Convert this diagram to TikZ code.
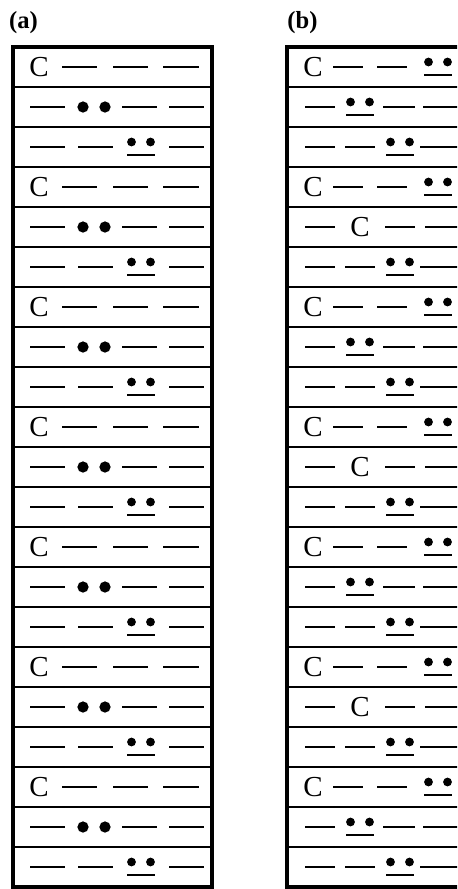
\documentclass[tikz,border=0pt]{standalone}
\usepackage{fontspec}
\setmainfont{Liberation Serif}
% lone pair: two dots over a short bar, centred at (#1,#2)
\newcommand{\lonepair}[2]{%
  \fill ({#1-9.5},{#2-5}) circle (2.5pt);
  \fill ({#1+9.5},{#2-5}) circle (2.5pt);
  \draw[bond] ({#1-14},{#2+8}) -- ({#1+14},{#2+8});}
\begin{document}
\begin{tikzpicture}[x=0.02cm, y=-0.02cm,
  frame/.style={line width=1.75pt},
  sep/.style={line width=1.4pt},
  bond/.style={line width=1.65pt},
  atom/.style={font=\fontsize{16.5}{16.5}\selectfont, inner sep=0pt},
  tag/.style={font=\bfseries\fontsize{14}{14}\selectfont, inner sep=0pt}]
\useasboundingbox (0,0) rectangle (457,889);
\clip (0,0) rectangle (457,889);
% column (a)
\node[tag] (taga) at (23.5,23) {(a)};
\draw[frame] (13,47) rectangle (212,887);
\foreach \r in {1,...,20} \draw[sep] (13,{47+40*\r}) -- (212,{47+40*\r});
\foreach \r in {0,...,20} {
  \pgfmathsetmacro\yc{67+40*\r}
  \pgfmathtruncatemacro\k{mod(\r,3)}
  \ifcase\k
    \node[atom] (ca\r) at (39,\yc) {C};
    \foreach \a/\b in {62/97,113/148,163/199} \draw[bond] (\a,\yc) -- (\b,\yc);
  \or
    \foreach \a/\b in {30/65,122/157,169/204} \draw[bond] (\a,\yc) -- (\b,\yc);
    \foreach \a in {83,105} \fill (\a,\yc) circle (3.2pt);
  \or
    \foreach \a/\b in {30/65,78/113,169/204} \draw[bond] (\a,\yc) -- (\b,\yc);
    \lonepair{141}{\yc}
  \fi
}
% column (b)
\node[tag] (tagb) at (302.5,23) {(b)};
\draw[frame] (287,47) rectangle (475,887);
\foreach \r in {1,...,20} \draw[sep] (287,{47+40*\r}) -- (475,{47+40*\r});
\foreach \r in {0,...,20} {
  \pgfmathsetmacro\yc{67+40*\r}
  \pgfmathtruncatemacro\k{mod(\r,3)}
  \pgfmathtruncatemacro\m{mod(\r,6)}
  \ifcase\k
    \node[atom] (cb\r) at (313,\yc) {C};
    \foreach \a/\b in {333/363,377/407} \draw[bond] (\a,\yc) -- (\b,\yc);
    \lonepair{438}{\yc}
  \or
    \ifnum\m=1
      \foreach \a/\b in {305/335,383/415,423/462} \draw[bond] (\a,\yc) -- (\b,\yc);
      \lonepair{360}{\yc}
    \else
      \node[atom] (cm\r) at (360,\yc) {C};
      \foreach \a/\b in {305/335,385/415,425/462} \draw[bond] (\a,\yc) -- (\b,\yc);
    \fi
  \or
    \foreach \a/\b in {305/335,345/375,420/462} \draw[bond] (\a,\yc) -- (\b,\yc);
    \lonepair{400}{\yc}
  \fi
}
\end{tikzpicture}
\end{document}
